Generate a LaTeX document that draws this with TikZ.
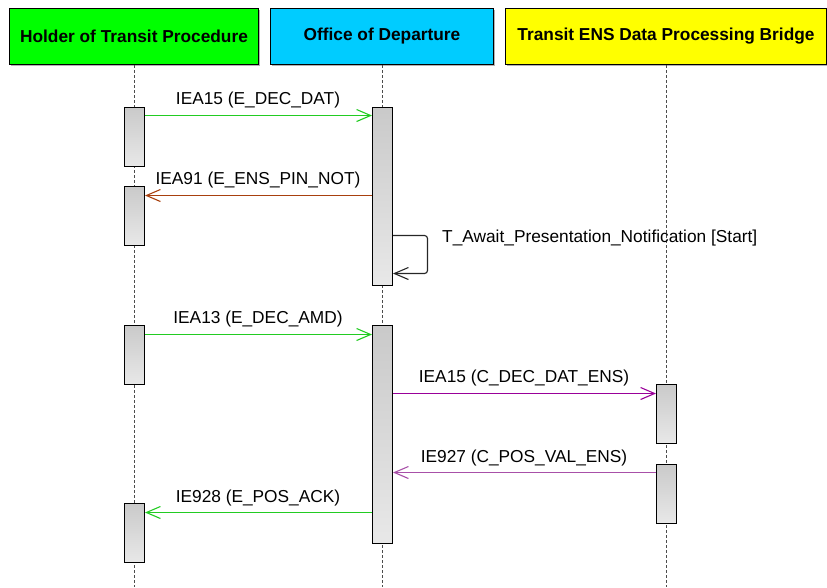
\documentclass[tikz,border=0pt]{standalone}
\usepackage{fontspec}
\setmainfont{Liberation Sans}
\usetikzlibrary{arrows.meta}
\definecolor{hgreen}{HTML}{00FF00}
\definecolor{hcyan}{HTML}{00CCFF}
\definecolor{hyellow}{HTML}{FFFF00}
\definecolor{mgreen}{HTML}{22CC22}
\definecolor{mbrown}{HTML}{A8400E}
\definecolor{mpurple}{HTML}{990099}
\definecolor{mpurplel}{HTML}{A850A8}
\tikzset{
  hdr/.style={draw=black, line width=1pt, inner sep=0pt, anchor=north west,
    font=\fontsize{17.3}{20}\selectfont\bfseries},
  life/.style={draw=gray!60!black, line width=0.9pt, dash pattern=on 3pt off 2pt},
  act/.style={draw=black, line width=1pt, inner sep=0pt, minimum width=20pt,
    anchor=north, top color=gray!42, bottom color=gray!18},
  msg/.style={line width=1.15pt, -{Straight Barb[length=14pt, width=12pt, line width=1.1pt]}},
  lbl/.style={anchor=base, inner sep=0pt, font=\fontsize{17.3}{20}\selectfont}
}
\begin{document}
\begin{tikzpicture}[x=1pt, y=-1pt]
\useasboundingbox (0,0) rectangle (827,587);
% header shadows
\fill[gray!60] (10.5,9.5) rectangle (259.5,65.5);
\fill[gray!60] (271.5,9.5) rectangle (494.5,65.5);
\fill[gray!60] (506.5,9.5) rectangle (827,65.5);
% headers
\node[hdr, fill=hgreen, minimum width=249pt, minimum height=56pt] (holder) at (9,8) {Holder of Transit Procedure};
\node[hdr, fill=hcyan, minimum width=223pt, minimum height=56pt] (office) at (270,8) {Office of Departure};
\node[hdr, fill=hyellow, minimum width=321pt, minimum height=56pt] (bridge) at (505,8) {Transit ENS Data Processing Bridge};
% lifelines
\coordinate (hend) at (134.5,587);
\coordinate (oend) at (382.5,587);
\coordinate (bend) at (666.5,587);
\draw[life] (holder.south -| hend) -- (hend);
\draw[life] (office.south -| oend) -- (oend);
\draw[life] (bridge.south -| bend) -- (bend);
% activations
\node[act, minimum height=59pt] (h1) at (134.5,106.5) {};
\node[act, minimum height=59pt] (h2) at (134.5,185.5) {};
\node[act, minimum height=59pt] (h3) at (134.5,324.5) {};
\node[act, minimum height=59pt] (h4) at (134.5,502.5) {};
\node[act, minimum height=178pt] (o1) at (382.5,106.5) {};
\node[act, minimum height=218pt] (o2) at (382.5,324.5) {};
\node[act, minimum height=59pt] (b1) at (666.5,383.5) {};
\node[act, minimum height=59pt] (b2) at (666.5,463.5) {};
% message levels
\coordinate (y1) at (0,115.5);
\coordinate (y2) at (0,195.5);
\coordinate (y3) at (0,235.5);
\coordinate (y3b) at (0,273.5);
\coordinate (y4) at (0,334.5);
\coordinate (y5) at (0,393.5);
\coordinate (y6) at (0,472.5);
\coordinate (y7) at (0,512.5);
% messages
\draw[msg, mgreen] (h1.east |- y1) -- (o1.west |- y1);
\node[lbl] (l1) at (258,104) {IEA15 (E\_DEC\_DAT)};
\draw[msg, mbrown] (o1.west |- y2) -- (h2.east |- y2);
\node[lbl] (l2) at (258,184) {IEA91 (E\_ENS\_PIN\_NOT)};
\draw[msg, black!85, rounded corners=3pt] (o1.east |- y3) -- (427.5,235.5) -- (427.5,273.5) -- (o1.east |- y3b);
\node[lbl, anchor=base west] (l3) at (442,242) {T\_Await\_Presentation\_Notification [Start]};
\draw[msg, mgreen] (h3.east |- y4) -- (o2.west |- y4);
\node[lbl] (l4) at (258,323) {IEA13 (E\_DEC\_AMD)};
\draw[msg, mpurple] (o2.east |- y5) -- (b1.west |- y5);
\node[lbl] (l5) at (524,382) {IEA15 (C\_DEC\_DAT\_ENS)};
\draw[msg, mpurplel, line width=1.5pt] (b2.west |- y6) -- (o2.east |- y6);
\node[lbl] (l6) at (524,462) {IE927 (C\_POS\_VAL\_ENS)};
\draw[msg, mgreen] (o2.west |- y7) -- (h4.east |- y7);
\node[lbl] (l7) at (258,502) {IE928 (E\_POS\_ACK)};
\end{tikzpicture}
\end{document}
